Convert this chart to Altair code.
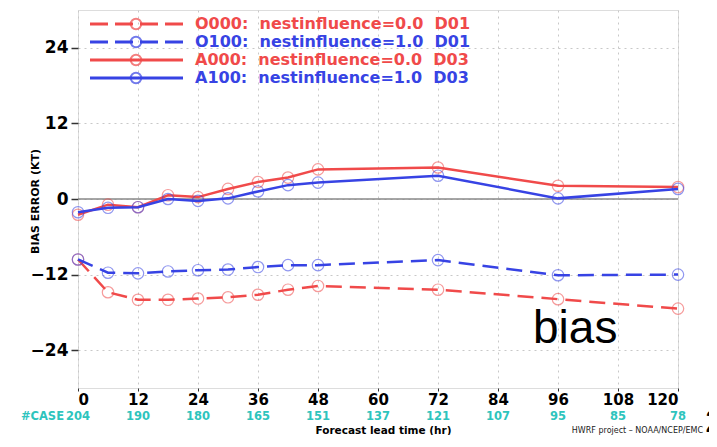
import altair as alt
import pandas as pd

lead = [0, 6, 12, 18, 24, 30, 36, 42, 48, 72, 96, 120]
o000 = [-9.6, -14.8, -16.0, -16.0, -15.8, -15.6, -15.2, -14.4, -13.8, -14.4, -15.9, -17.4]
o100 = [-9.6, -11.7, -11.8, -11.5, -11.3, -11.2, -10.8, -10.5, -10.5, -9.7, -12.1, -12.0]
a000 = [-2.5, -0.9, -1.3, 0.6, 0.3, 1.6, 2.7, 3.4, 4.7, 5.0, 2.1, 1.9]
a100 = [-2.1, -1.4, -1.3, 0.0, -0.3, 0.1, 1.2, 2.2, 2.6, 3.7, 0.1, 1.6]

case_hours = [0, 12, 24, 36, 48, 60, 72, 84, 96, 108, 120]
case_counts = [204, 190, 180, 165, 151, 137, 121, 107, 95, 85, 78]

series_names = ["O000", "O100", "A000", "A100"]
series_labels = [
    "O000:\u00a0\u00a0nestinfluence=0.0\u00a0\u00a0D01",
    "O100:\u00a0\u00a0nestinfluence=1.0\u00a0\u00a0D01",
    "A000:\u00a0\u00a0nestinfluence=0.0\u00a0\u00a0D03",
    "A100:\u00a0\u00a0nestinfluence=1.0\u00a0\u00a0D03",
]
RED = "#f04a4a"
BLUE = "#3743e4"
CYAN = "#2ec4bd"
series_colors = [RED, BLUE, RED, BLUE]
series_dashed = [True, True, False, False]
series_values = [o000, o100, a000, a100]

W, H = 600, 378
FONT = "DejaVu Sans"

xscale = alt.Scale(domain=[0, 120], nice=False, zero=False)
yscale = alt.Scale(domain=[-30, 30], nice=False, zero=False)

xaxis = alt.Axis(values=list(range(0, 121, 12)), format="d", labelFont=FONT, labelFontSize=15,
                 labelFontWeight="bold", labelColor="black", labelPadding=1, tickSize=3,
                 tickColor="#333", domain=False, grid=True, gridColor="#c8c8c8",
                 gridDash=[2, 4], gridWidth=1,
                 title="Forecast lead time (hr)", titleFont=FONT, titleFontSize=10.5,
                 titleFontWeight="bold", titleColor="black", titleX=305, titleY=42,
                 titleBaseline="middle", titleAnchor="middle")
yaxis = alt.Axis(values=[-24, -12, 0, 12, 24], labelFont=FONT, labelFontSize=17,
                 labelFontWeight="bold", labelColor="black", labelPadding=3, tickSize=7,
                 tickColor="#333", tickWidth=1.5, domain=False, grid=True, gridColor="#c8c8c8",
                 gridDash=[2, 4], gridWidth=1,
                 title="BIAS ERROR (KT)", titleFont=FONT, titleFontSize=11,
                 titleFontWeight="bold", titleColor="black", titleX=-43, titleY=191,
                 titleBaseline="middle", titleAngle=-90, titleAnchor="middle")

layers = []

# axes carrier (invisible)
base_df = pd.DataFrame({"lead": lead, "v": a000})
layers.append(alt.Chart(base_df).mark_point(opacity=0).encode(
    x=alt.X("lead:Q", scale=xscale, axis=xaxis),
    y=alt.Y("v:Q", scale=yscale, axis=yaxis),
))

# zero line
layers.append(alt.Chart(pd.DataFrame({"z": [0]})).mark_rule(color="#888888", strokeWidth=1.5).encode(
    y=alt.Y("z:Q", scale=yscale)
))

for name, vals, col, dashed in zip(series_names, series_values, series_colors, series_dashed):
    df = pd.DataFrame({"lead": lead, "v": vals})
    line_kw = dict(color=col, strokeWidth=2.5)
    if dashed:
        line_kw["strokeDash"] = [16, 8]
    layers.append(alt.Chart(df).mark_line(**line_kw).encode(
        x=alt.X("lead:Q", scale=xscale), y=alt.Y("v:Q", scale=yscale)))
    layers.append(alt.Chart(df).mark_point(filled=False, color=col, size=130, strokeWidth=1.2,
                                           opacity=0.55).encode(
        x=alt.X("lead:Q", scale=xscale), y=alt.Y("v:Q", scale=yscale)))

# legend
leg_y = [14, 32, 50, 68]
one = pd.DataFrame({"a": [0]})
for ly, lab, col, dashed in zip(leg_y, series_labels, series_colors, series_dashed):
    kw = dict(color=col, strokeWidth=3)
    if dashed:
        kw["strokeDash"] = [18, 7]
    layers.append(alt.Chart(one).mark_rule(**kw).encode(
        x=alt.value(12), x2=alt.value(105), y=alt.value(ly)))
    layers.append(alt.Chart(one).mark_point(filled=False, color=col, size=110, strokeWidth=2).encode(
        x=alt.value(58), y=alt.value(ly)))
    layers.append(alt.Chart(one).mark_text(text=lab, color=col, font=FONT, fontSize=16,
                                           fontWeight="bold", align="left", baseline="middle").encode(
        x=alt.value(117), y=alt.value(ly)))

# case counts
cdf = pd.DataFrame({"lead": case_hours, "n": case_counts})
layers.append(alt.Chart(cdf).mark_text(color=CYAN, font=FONT, fontSize=11.5, fontWeight="bold",
                                       baseline="middle").encode(
    x=alt.X("lead:Q", scale=xscale), y=alt.value(407), text="n:Q"))
layers.append(alt.Chart(one).mark_text(text="#CASE", color=CYAN, font=FONT, fontSize=11.5,
                                       fontWeight="bold", align="right", baseline="middle").encode(
    x=alt.value(-14), y=alt.value(407)))

# annotations
layers.append(alt.Chart(one).mark_text(text="bias", color="black", font="Liberation Sans", fontSize=46,
                                       align="left", baseline="alphabetic").encode(
    x=alt.value(455), y=alt.value(333)))
layers.append(alt.Chart(one).mark_text(text="HWRF project \u2013 NOAA/NCEP/EMC", color="#222", font=FONT,
                                       fontSize=8, align="right", baseline="middle").encode(
    x=alt.value(625), y=alt.value(421)))
layers.append(alt.Chart(one).mark_text(text="2", color="black", font="Liberation Sans", fontSize=32,
                                       align="left", baseline="alphabetic").encode(
    x=alt.value(627), y=alt.value(422)))

chart = alt.layer(*layers).properties(
    width=W, height=H,
    autosize=alt.AutoSizeParams(type="none"),
    padding={"left": 70, "top": 2, "right": 31, "bottom": 47},
).configure_view(stroke="#333333", strokeWidth=2).configure(background="white")

chart.save("out.html", embed_options={"renderer": "svg", "actions": False})
